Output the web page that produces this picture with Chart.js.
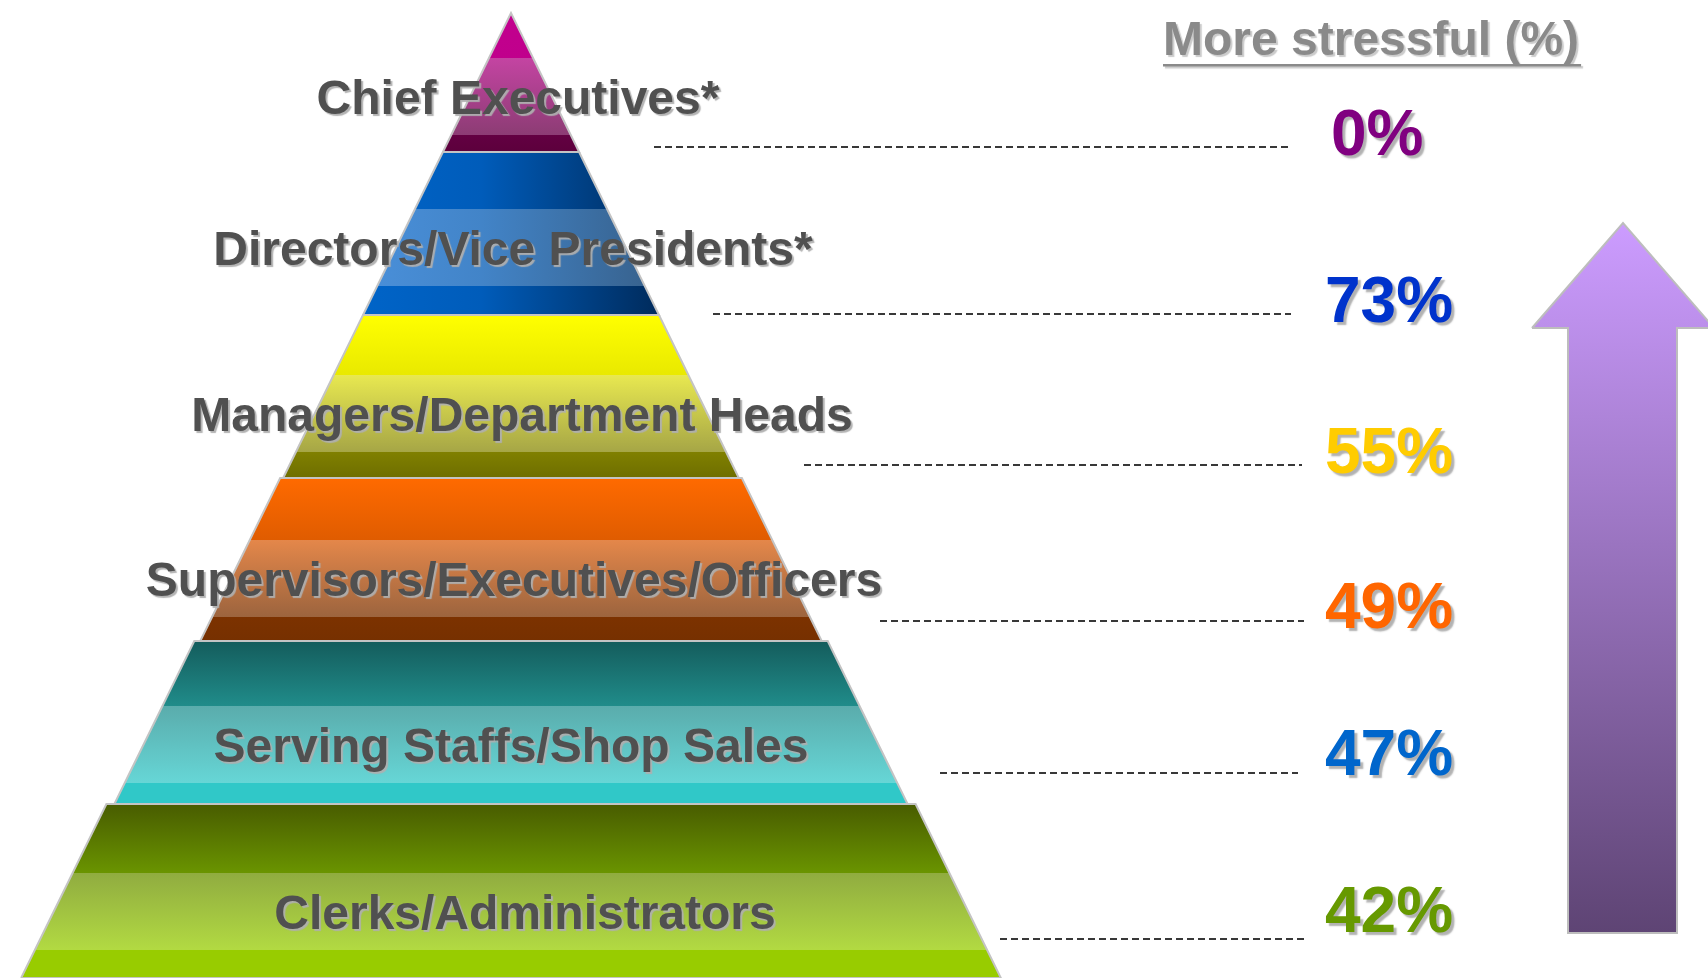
<!DOCTYPE html>
<html>
<head>
<meta charset="utf-8">
<script src="https://cdn.jsdelivr.net/npm/chart.js@4/dist/chart.umd.min.js"></script>
<style>
html,body{margin:0;padding:0;background:#ffffff;overflow:hidden}
canvas{display:block}
</style>
</head>
<body>
<canvas id="c" width="1708" height="978"></canvas>
<script>
// ---------------- data ----------------
const tierLabels = [
  'Chief Executives*',
  'Directors/Vice Presidents*',
  'Managers/Department Heads',
  'Supervisors/Executives/Officers',
  'Serving Staffs/Shop Sales',
  'Clerks/Administrators'
];
const stressPct = [0, 73, 55, 49, 47, 42];
const stressTitle = 'More stressful (%)';

// ---------------- styles ----------------
const pctColors = ['#800080', '#0033cc', '#ffcc00', '#ff6600', '#0066cc', '#669900'];
const tierFills = [
  {mode: 'v', top: ['#c2008e', '#c0008c'], band: ['#c444a2', '#8c3c74'], strip: ['#630042', '#5c003c']},
  {mode: 'h', base: ['#0064c8', '#005cba', '#002b5c'], band: ['#4a90da', '#4284c8', '#37608a']},
  {mode: 'v', top: ['#ffff00', '#e9e900'], band: ['#e8e850', '#a6a646'], strip: ['#808000', '#6e6e00']},
  {mode: 'v', top: ['#ff6a00', '#e05c00'], band: ['#e4874a', '#9c643e'], strip: ['#7c3200', '#763000']},
  {mode: 'v', top: ['#145c5c', '#208c8a'], band: ['#5aacac', '#66d6d6'], strip: ['#30c8c8', '#30c8c8']},
  {mode: 'v', top: ['#485c00', '#6a9400'], band: ['#90ac40', '#b2da42'], strip: ['#98cc00', '#98cc00']}
];

// ---------------- layout (pixel-space scales) ----------------
const W = 1708, H = 978;
const apexX = 511, apexY = 13, slope = 0.49;
const tierWiden = [0, 0, 0, 3, 9, 17];
const firstBottom = 152, tierStep = 163;
const bandH = 77;
const stripH = [17, 29, 26, 24, 21, 28];
const labelCx = [518, 513, 522, 514, 511, 525];
const leaderY = [147, 314, 465, 621, 773, 939];
const leaderX0 = [654, 713, 804, 880, 940, 1000];
const leaderX1 = [1291, 1291, 1302, 1304, 1298, 1304];
const pctX = [1331, 1325, 1325, 1325, 1325, 1325];
const pctBaseline = [155, 322, 473, 628, 775, 932];
const arrow = {tipX: 1623, tipY: 223, headL: 1532, headR: 1714, headY: 328, shaftL: 1568, shaftR: 1677, bottom: 933};

const nT = tierLabels.length;
const tierTop = i => i === 0 ? apexY : firstBottom + tierStep * (i - 1);
const tierBot = i => i === nT - 1 ? H : firstBottom + tierStep * i;
const half = (y, i) => (y - apexY) * slope + tierWiden[i];
const bandBot = i => tierBot(i) - stripH[i];
const bandTop = i => bandBot(i) - bandH;

function trap(y0, y1, i) {
  const h0 = i === 0 && y0 <= apexY ? 0 : half(y0, i), h1 = half(y1, i);
  const pts = [{x: apexX - h1, y: y1}, {x: apexX - h0, y: y0}];
  if (h0 > 0.01) pts.push({x: apexX + h0, y: y0});
  pts.push({x: apexX + h1, y: y1});
  return pts;
}

function px(chart, v) { return chart.scales.x.getPixelForValue(v); }
function py(chart, v) { return chart.scales.y.getPixelForValue(v); }

function tierGradient(i, part) {
  return function (ctx) {
    const chart = ctx.chart;
    const f = tierFills[i];
    if (!chart.chartArea) return f.mode === 'v' ? f.top[0] : f.base[0];
    const c = chart.ctx;
    if (f.mode === 'h') {
      const yb = tierBot(i);
      const g = c.createLinearGradient(px(chart, apexX - half(yb, i)), 0, px(chart, apexX + half(yb, i)), 0);
      const cols = part === 'band' ? f.band : f.base;
      g.addColorStop(0, cols[0]); g.addColorStop(0.4, cols[1]); g.addColorStop(1, cols[2]);
      return g;
    }
    const y0 = py(chart, tierTop(i)), y1 = py(chart, tierBot(i));
    const f1 = (py(chart, bandTop(i)) - y0) / (y1 - y0);
    const f2 = (py(chart, bandBot(i)) - y0) / (y1 - y0);
    const g = c.createLinearGradient(0, y0, 0, y1);
    g.addColorStop(0, f.top[0]); g.addColorStop(f1, f.top[1]);
    g.addColorStop(f1, f.band[0]); g.addColorStop(f2, f.band[1]);
    g.addColorStop(f2, f.strip[0]); g.addColorStop(1, f.strip[1]);
    return g;
  };
}

function arrowGradient(ctx) {
  const chart = ctx.chart;
  if (!chart.chartArea) return '#a080d0';
  const g = chart.ctx.createLinearGradient(0, py(chart, arrow.tipY), 0, py(chart, arrow.bottom));
  g.addColorStop(0, '#cc9cff');
  g.addColorStop(1, '#5e4474');
  return g;
}

// ---------------- datasets (paint order: first = bottom) ----------------
const ds = [];
const base = {type: 'line', pointRadius: 0, pointHoverRadius: 0, tension: 0, borderColor: 'rgba(0,0,0,0)', borderWidth: 1};

for (let i = 0; i < nT; i++) {
  ds.push(Object.assign({}, base, {
    label: tierLabels[i],
    data: trap(tierTop(i), tierBot(i), i),
    fill: {value: tierBot(i)},
    backgroundColor: tierGradient(i, 'base')
  }));
  if (tierFills[i].mode === 'h') {
    ds.push(Object.assign({}, base, {
      label: tierLabels[i] + ' band',
      data: trap(bandTop(i), bandBot(i), i),
      fill: {value: bandBot(i)},
      backgroundColor: tierGradient(i, 'band')
    }));
  }
}
for (let i = 0; i < nT; i++) {
  const p = trap(tierTop(i), tierBot(i), i);
  p.push(Object.assign({}, p[0]));
  ds.push(Object.assign({}, base, {
    label: tierLabels[i] + ' outline',
    data: p, fill: false, borderColor: '#c4c4c4', borderWidth: 2
  }));
}
for (let i = 0; i < nT; i++) {
  ds.push(Object.assign({}, base, {
    label: 'leader ' + stressPct[i],
    data: [{x: leaderX0[i], y: leaderY[i]}, {x: leaderX1[i], y: leaderY[i]}],
    fill: false, borderColor: '#383838', borderWidth: 2, borderDash: [7, 4]
  }));
}
// arrow: head + shaft
ds.push(Object.assign({}, base, {
  label: 'arrow shaft',
  data: [{x: arrow.shaftL, y: arrow.headY - 1}, {x: arrow.shaftR, y: arrow.headY - 1}],
  fill: {value: arrow.bottom}, backgroundColor: arrowGradient
}));
ds.push(Object.assign({}, base, {
  label: 'arrow head',
  data: [{x: arrow.headL, y: arrow.headY}, {x: arrow.tipX, y: arrow.tipY}, {x: arrow.headR, y: arrow.headY}],
  fill: {value: arrow.headY}, backgroundColor: arrowGradient
}));
ds.push(Object.assign({}, base, {
  label: 'arrow outline',
  data: [
    {x: arrow.headL, y: arrow.headY}, {x: arrow.tipX, y: arrow.tipY}, {x: arrow.headR, y: arrow.headY},
    {x: arrow.shaftR, y: arrow.headY}, {x: arrow.shaftR, y: arrow.bottom}, {x: arrow.shaftL, y: arrow.bottom},
    {x: arrow.shaftL, y: arrow.headY}, {x: arrow.headL, y: arrow.headY}
  ],
  fill: false, borderColor: '#bdbdbd', borderWidth: 2
}));
ds.forEach((d, i) => { d.order = ds.length - i; });

// ---------------- text plugin ----------------
const FONT = '"Liberation Sans", Arial, Helvetica, sans-serif';
const textPlugin = {
  id: 'pyramidText',
  afterDatasetsDraw(chart) {
    const c = chart.ctx;
    c.save();
    // tier labels
    c.font = 'bold 48px ' + FONT;
    c.textAlign = 'center';
    c.textBaseline = 'alphabetic';
    for (let i = 0; i < nT; i++) {
      c.shadowColor = 'rgba(175,175,175,0.95)';
      c.shadowOffsetX = 2; c.shadowOffsetY = 2; c.shadowBlur = 1;
      c.fillStyle = '#505050';
      c.fillText(tierLabels[i], px(chart, labelCx[i]), py(chart, bandBot(i) - 21));
    }
    // percentages
    c.font = 'bold 64px ' + FONT;
    c.textAlign = 'left';
    for (let i = 0; i < nT; i++) {
      c.shadowColor = 'rgba(170,170,170,0.9)';
      c.shadowOffsetX = 3; c.shadowOffsetY = 3; c.shadowBlur = 1.5;
      c.fillStyle = pctColors[i];
      c.fillText(stressPct[i] + '%', px(chart, pctX[i]), py(chart, pctBaseline[i]));
    }
    // title
    c.font = 'bold 48px ' + FONT;
    c.textAlign = 'left';
    c.shadowColor = 'rgba(200,200,200,0.95)';
    c.shadowOffsetX = 2; c.shadowOffsetY = 2; c.shadowBlur = 1;
    c.fillStyle = '#8a8a8a';
    const tx = px(chart, 1163), tb = py(chart, 55);
    c.fillText(stressTitle, tx, tb);
    const tw = c.measureText(stressTitle).width;
    c.fillRect(tx, py(chart, 64), tw + 2, 2.5);
    c.restore();
  }
};

new Chart(document.getElementById('c'), {
  type: 'line',
  data: {datasets: ds},
  options: {
    responsive: false,
    maintainAspectRatio: false,
    animation: false,
    events: [],
    layout: {padding: 0},
    plugins: {legend: {display: false}, tooltip: {enabled: false}, title: {display: false}},
    scales: {
      x: {type: 'linear', min: 0, max: W, display: false},
      y: {type: 'linear', min: 0, max: H, reverse: true, display: false}
    }
  },
  plugins: [textPlugin]
});
</script>
</body>
</html>
